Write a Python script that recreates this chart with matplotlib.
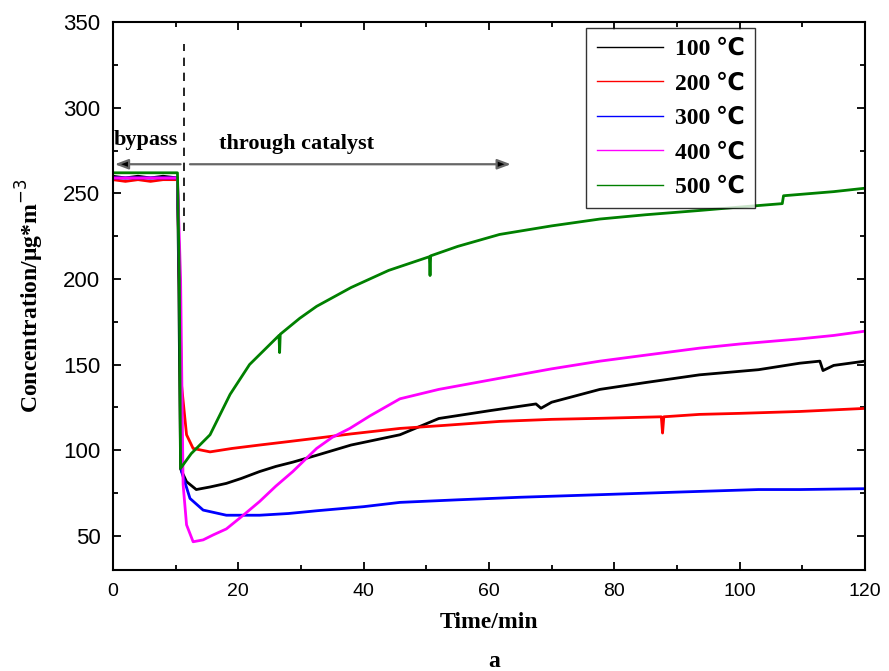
import matplotlib
matplotlib.use("Agg")
import matplotlib.pyplot as plt
from matplotlib.ticker import MultipleLocator

# --- data (time in min, concentration in ug/m3) ---
t_100 = [0, 2, 4, 6, 8, 10.3, 10.5, 10.8, 11.75, 13.3, 15.5, 18.1, 20.5, 23.4, 26.0, 28.7,
         32.5, 38.0, 45.8, 52.0, 60.0, 67.5, 68.3, 70.0, 77.7, 85.0, 93.6, 103.0, 109.6,
         112.8, 113.3, 115.0, 120.0]
c_100 = [260, 259, 260, 259, 260, 259, 200, 89, 81.6, 77, 78.5, 80.6, 83.5, 87.5, 90.5, 93,
         97, 103, 109, 118.5, 123, 127, 124.5, 128, 135.5, 139.5, 144, 147, 150.8,
         152, 146.5, 149.5, 152]

t_200 = [0, 2, 4, 6, 8, 10.3, 10.6, 10.95, 11.75, 12.8, 15.5, 19.0, 23.4, 28.0, 32.5,
         38.0, 45.8, 53.0, 61.7, 70.0, 77.7, 87.5, 87.7, 87.9, 93.6, 100.0, 109.6, 120.0]
c_200 = [258, 257, 258, 257, 258, 258, 200, 138, 109, 101, 99, 101, 103, 105, 107,
         109.5, 112.7, 114.5, 116.8, 118, 118.6, 119.5, 110, 119.5, 120.9, 121.5, 122.6, 124.4]

t_300 = [0, 2, 4, 6, 8, 10.3, 10.6, 10.95, 12.3, 14.4, 18.1, 23.4, 28.0, 32.5, 40.0,
         45.8, 55.0, 65.0, 77.7, 90.0, 103.0, 109.6, 120.0]
c_300 = [259, 259, 259, 259, 259, 259, 200, 87.5, 71.8, 65, 62, 62, 63, 64.6, 67,
         69.5, 71, 72.5, 74, 75.5, 77, 77, 77.5]

t_400 = [0, 2, 4, 6, 8, 10.3, 10.8, 11.2, 11.75, 12.8, 14.4, 16.0, 18.1, 20.8, 23.4,
         26.0, 28.7, 32.5, 35.0, 37.8, 41.0, 45.8, 52.0, 61.7, 70.0, 77.7, 85.0, 93.6,
         100.0, 109.6, 115.0, 120.0]
c_400 = [259, 259, 259, 259, 259, 259, 200, 80, 56.4, 46.5, 47.6, 50.5, 54, 62, 70,
         79, 87.5, 101, 107.5, 112.7, 120, 130, 135.5, 142, 147.5, 152, 155.5, 159.6,
         162, 165, 167, 169.5]

t_500 = [0, 2, 4, 6, 8, 10.3, 10.6, 10.8, 12.5, 15.5, 18.7, 21.8, 26.5, 26.6, 26.7,
         29.8, 32.5, 38.0, 44.0, 50.5, 50.6, 50.7, 55.0, 61.7, 70.0, 77.7, 85.0, 93.6,
         100.0, 106.8, 107.0, 110.0, 115.0, 120.0]
c_500 = [262, 262, 262, 262, 262, 262, 200, 89.4, 98, 109, 132.6, 150, 167, 157, 167.7,
         177, 184, 195, 205, 213, 202, 213.5, 219, 226, 231, 235, 237.5, 240,
         242, 244, 248.6, 249.5, 251, 253]

series = [
    ("100 ℃", t_100, c_100, "black"),
    ("200 ℃", t_200, c_200, "red"),
    ("300 ℃", t_300, c_300, "blue"),
    ("400 ℃", t_400, c_400, "magenta"),
    ("500 ℃", t_500, c_500, "green"),
]

serif = ["Liberation Serif", "DejaVu Sans"]
plt.rcParams["font.family"] = ["Liberation Sans", "DejaVu Sans"]

fig = plt.figure(figsize=(8.89, 6.71), dpi=100)
ax = fig.add_axes([0.127, 0.1505, 0.846, 0.8165])

for label, t, c, col in series:
    ax.plot(t, c, color=col, lw=2.0, label=label)

ax.set_xlim(0, 120)
ax.set_ylim(30, 350)
ax.xaxis.set_major_locator(MultipleLocator(20))
ax.xaxis.set_minor_locator(MultipleLocator(10))
ax.yaxis.set_major_locator(MultipleLocator(50))
ax.yaxis.set_minor_locator(MultipleLocator(25))
ax.tick_params(which="both", direction="in", top=True, right=True, width=1.3)
ax.tick_params(which="major", length=6)
ax.tick_params(which="minor", length=3.5)
ax.tick_params(axis="x", pad=9, labelsize=14)
ax.tick_params(axis="y", pad=9, labelsize=16)
for s in ax.spines.values():
    s.set_linewidth(1.5)

ax.set_xlabel("Time/min", fontfamily=serif, fontweight="bold", fontsize=17, labelpad=9)
ax.set_ylabel("Concentration/μg*m$^{-3}$", fontfamily=serif, fontweight="bold",
              fontsize=17, labelpad=12)
fig.text(0.556, 0.006, "a", fontfamily=serif, fontweight="bold", fontsize=17,
         ha="center")

# bypass / catalyst markers
ax.plot([11.3, 11.3], [228, 337], color="black", lw=1.2, ls=(0, (5, 4)))
ax.annotate("", xy=(0.3, 267), xytext=(10.8, 267),
            arrowprops=dict(arrowstyle="-|>,head_length=0.8,head_width=0.3",
                            color="#666666", lw=1.6, shrinkA=0, shrinkB=0,
                            fc="black", ec="#666666"))
ax.annotate("", xy=(63.5, 267), xytext=(12.3, 267),
            arrowprops=dict(arrowstyle="-|>,head_length=0.8,head_width=0.3",
                            color="#666666", lw=1.6, shrinkA=0, shrinkB=0,
                            fc="black", ec="#666666"))
ax.text(0.2, 281, "bypass", fontfamily=serif, fontweight="bold", fontsize=16,
        ha="left", va="center")
ax.text(17, 279, "through catalyst", fontfamily=serif, fontweight="bold", fontsize=16,
        ha="left", va="center")

leg = ax.legend(loc="upper right", bbox_to_anchor=(0.854, 0.99), borderaxespad=0,
                frameon=True, fancybox=False, edgecolor="black", handlelength=2.8,
                handletextpad=0.5, labelspacing=0.55, borderpad=0.45,
                prop=dict(family=serif, weight="bold", size=17))
leg.get_frame().set_linewidth(1.0)
for line in leg.get_lines():
    line.set_linewidth(1.0)

fig.savefig("out.png", dpi=100)
